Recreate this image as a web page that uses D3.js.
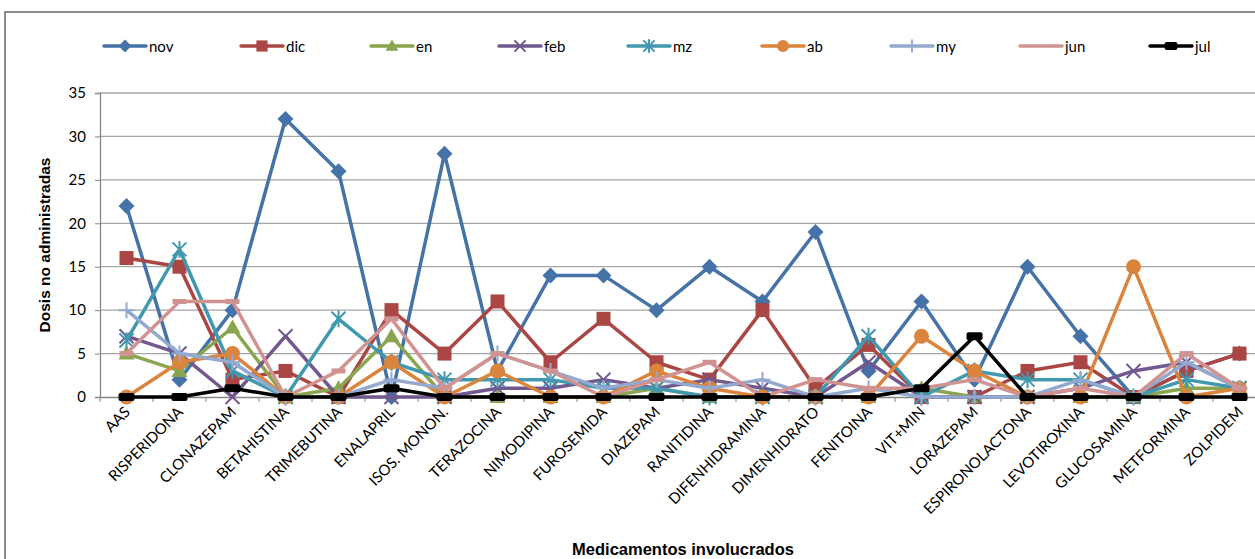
<!DOCTYPE html>
<html><head><meta charset="utf-8">
<script src="https://cdn.jsdelivr.net/npm/d3@7"></script>
<style>body{margin:0;background:#fff;overflow:hidden}svg{display:block}</style>
</head><body>
<svg id="c" width="1255" height="559"></svg>
<script>
const categories = ["AAS","RISPERIDONA","CLONAZEPAM","BETAHISTINA","TRIMEBUTINA","ENALAPRIL","ISOS. MONON.","TERAZOCINA","NIMODIPINA","FUROSEMIDA","DIAZEPAM","RANITIDINA","DIFENHIDRAMINA","DIMENHIDRATO","FENITOINA","VIT+MIN","LORAZEPAM","ESPIRONOLACTONA","LEVOTIROXINA","GLUCOSAMINA","METFORMINA","ZOLPIDEM"];
const seriesNames = ["nov","dic","en","feb","mz","ab","my","jun","jul"];
const nov = [22,2,10,32,26,0,28,3,14,14,10,15,11,19,3,11,2,15,7,0,3,5];
const dic = [16,15,2,3,0,10,5,11,4,9,4,2,10,1,6,0,0,3,4,0,3,5];
const en  = [5,3,8,0,1,7,0,0,0,0,1,0,0,0,0,1,0,0,0,0,1,1];
const feb = [7,5,0,7,0,0,0,1,1,2,1,2,1,0,4,0,0,0,1,3,4,1];
const mz  = [6.5,17,3,0,9,4,2,2,2,1,1,0,0,0,7,0,3,2,2,0,2,1];
const ab  = [0,4,5,0,0,4,0,3,0,0,3,1,0,0,0,7,3,0,0,15,0,1];
const my  = [10,5,4,0,0,2,1,5,3,1,2,1,2,0,1,0,0,0,2,0,4,1];
const jun = [5,11,11,0,3,9,1,5,3,0,2,4,0,2,1,1,2,0,1,0,5,1];
const jul = [0,0,1,0,0,1,0,0,0,0,0,0,0,0,0,1,7,0,0,0,0,0];
const yTicks = [0,5,10,15,20,25,30,35];
const colors = ["#4572A7","#AA4643","#89A54E","#71588F","#4198AF","#DB843D","#93A9CF","#D19392","#000000"];
const markers = ["diamond","square","triangle","x","star","circle","plus","dash","bar"];
const values = [nov,dic,en,feb,mz,ab,my,jun,jul];

const svg = d3.select("#c");
const plotLeft = 100, plotTop = 93, plotBottom = 397, band = 53;
const x = d3.scaleBand().domain(categories).range([plotLeft, plotLeft + band*categories.length]).padding(0);
const y = d3.scaleLinear().domain([0,35]).range([plotBottom, plotTop]);
const cx = c => x(c) + x.bandwidth()/2;

// frame
svg.append("rect").attr("x",5).attr("y",12).attr("width",1300).attr("height",600)
  .attr("fill","none").attr("stroke","#8c8c8c").attr("stroke-width",2);

// gridlines
svg.append("g").selectAll("line").data(yTicks.filter(d=>d>0)).join("line")
  .attr("x1",plotLeft).attr("x2",1300).attr("y1",d=>y(d)).attr("y2",d=>y(d))
  .attr("stroke","#a6a6a6").attr("stroke-width",1.3);

// y axis
const ya = svg.append("g").attr("transform",`translate(${plotLeft},0)`)
  .call(d3.axisLeft(y).tickValues(yTicks).tickSize(5).tickPadding(9).tickFormat(d3.format("d")));
ya.select(".domain").attr("stroke","#868686").attr("stroke-width",1.3);
ya.selectAll(".tick line").attr("stroke","#868686");
ya.selectAll("text").attr("font-family","Lato, 'Open Sans', sans-serif").attr("font-size",15).attr("fill","#000");

// x axis
const xa = svg.append("g").attr("transform",`translate(0,${plotBottom})`)
  .call(d3.axisBottom(x).tickSize(0).tickFormat(""));
xa.select(".domain").attr("stroke","#868686").attr("stroke-width",1.3);
svg.append("g").selectAll("line").data(d3.range(categories.length+1)).join("line")
  .attr("x1",i=>plotLeft+i*band).attr("x2",i=>plotLeft+i*band).attr("y1",plotBottom).attr("y2",plotBottom+5)
  .attr("stroke","#868686").attr("stroke-width",1);
svg.append("g").selectAll("text").data(categories).join("text")
  .attr("transform",d=>`translate(${cx(d)+4.5},${plotBottom+16}) rotate(-45)`)
  .attr("text-anchor","end").attr("font-family","Lato, 'Open Sans', sans-serif").attr("font-size",15)
  .attr("fill","#000").text(d=>d);

// titles
svg.append("text").attr("transform","translate(50,245) rotate(-90)").attr("text-anchor","middle")
  .attr("font-family","'Liberation Sans', Arial, sans-serif").attr("font-weight","bold").attr("font-size",15.5)
  .text("Dosis no administradas");
svg.append("text").attr("x",683).attr("y",555).attr("text-anchor","middle")
  .attr("font-family","'Liberation Sans', Arial, sans-serif").attr("font-weight","bold").attr("font-size",16.5)
  .text("Medicamentos involucrados");

function drawMarker(g, type, color, px, py, legend) {
  const s = legend ? 0.8 : 1;
  if (type === "diamond") {
    const r = 8*s;
    g.append("path").attr("d",`M${px},${py-r}L${px+r},${py}L${px},${py+r}L${px-r},${py}Z`).attr("fill",color);
  } else if (type === "square") {
    const r = 7*s;
    g.append("rect").attr("x",px-r).attr("y",py-r).attr("width",2*r).attr("height",2*r).attr("fill",color);
  } else if (type === "triangle") {
    const r = 8*s;
    g.append("path").attr("d",`M${px},${py-r}L${px+r},${py+r*0.75}L${px-r},${py+r*0.75}Z`).attr("fill",color);
  } else if (type === "x") {
    const r = 7*s;
    g.append("path").attr("d",`M${px-r},${py-r}L${px+r},${py+r}M${px-r},${py+r}L${px+r},${py-r}`)
      .attr("stroke",color).attr("stroke-width",2);
  } else if (type === "star") {
    const r = 7*s;
    g.append("path").attr("d",`M${px-r},${py-r}L${px+r},${py+r}M${px-r},${py+r}L${px+r},${py-r}M${px},${py-r*1.2}L${px},${py+r*1.2}`)
      .attr("stroke",color).attr("stroke-width",2);
  } else if (type === "circle") {
    g.append("circle").attr("cx",px).attr("cy",py).attr("r",7.5*s).attr("fill",color);
  } else if (type === "plus") {
    const r = 8*s;
    g.append("path").attr("d",`M${px-r},${py}L${px+r},${py}M${px},${py-r}L${px},${py+r}`)
      .attr("stroke",color).attr("stroke-width",2);
  } else if (type === "dash") {
    g.append("rect").attr("x",px-7*s).attr("y",py-2.5).attr("width",14*s).attr("height",5).attr("fill",color);
  } else if (type === "bar") {
    g.append("rect").attr("x",px-8*s).attr("y",py-4).attr("width",16*s).attr("height",8).attr("rx",2).attr("fill",color);
  }
}

const line = d3.line().x((d,i)=>cx(categories[i])).y(d=>y(d));
const plot = svg.append("g");
seriesNames.forEach((name, si) => {
  const g = plot.append("g");
  g.append("path").datum(values[si]).attr("d",line).attr("fill","none")
    .attr("stroke",colors[si]).attr("stroke-width",3.5).attr("stroke-linejoin","round");
  values[si].forEach((v,i) => drawMarker(g, markers[si], colors[si], cx(categories[i]), y(v), false));
});

// legend
const legX = [104,241,371,499,628,762,891,1020,1150];
const leg = svg.append("g");
seriesNames.forEach((name, si) => {
  const lx = legX[si], ly = 46;
  leg.append("line").attr("x1",lx).attr("x2",lx+42).attr("y1",ly).attr("y2",ly)
    .attr("stroke",colors[si]).attr("stroke-width",3.5).attr("stroke-linecap","round");
  if (markers[si] !== "dash") drawMarker(leg, markers[si], colors[si], lx+21, ly, true);
  leg.append("text").attr("x",lx+45).attr("y",ly+5.5).attr("font-family","Lato, 'Open Sans', sans-serif")
    .attr("font-size",15).attr("fill","#000").text(name);
});
</script>
</body></html>
